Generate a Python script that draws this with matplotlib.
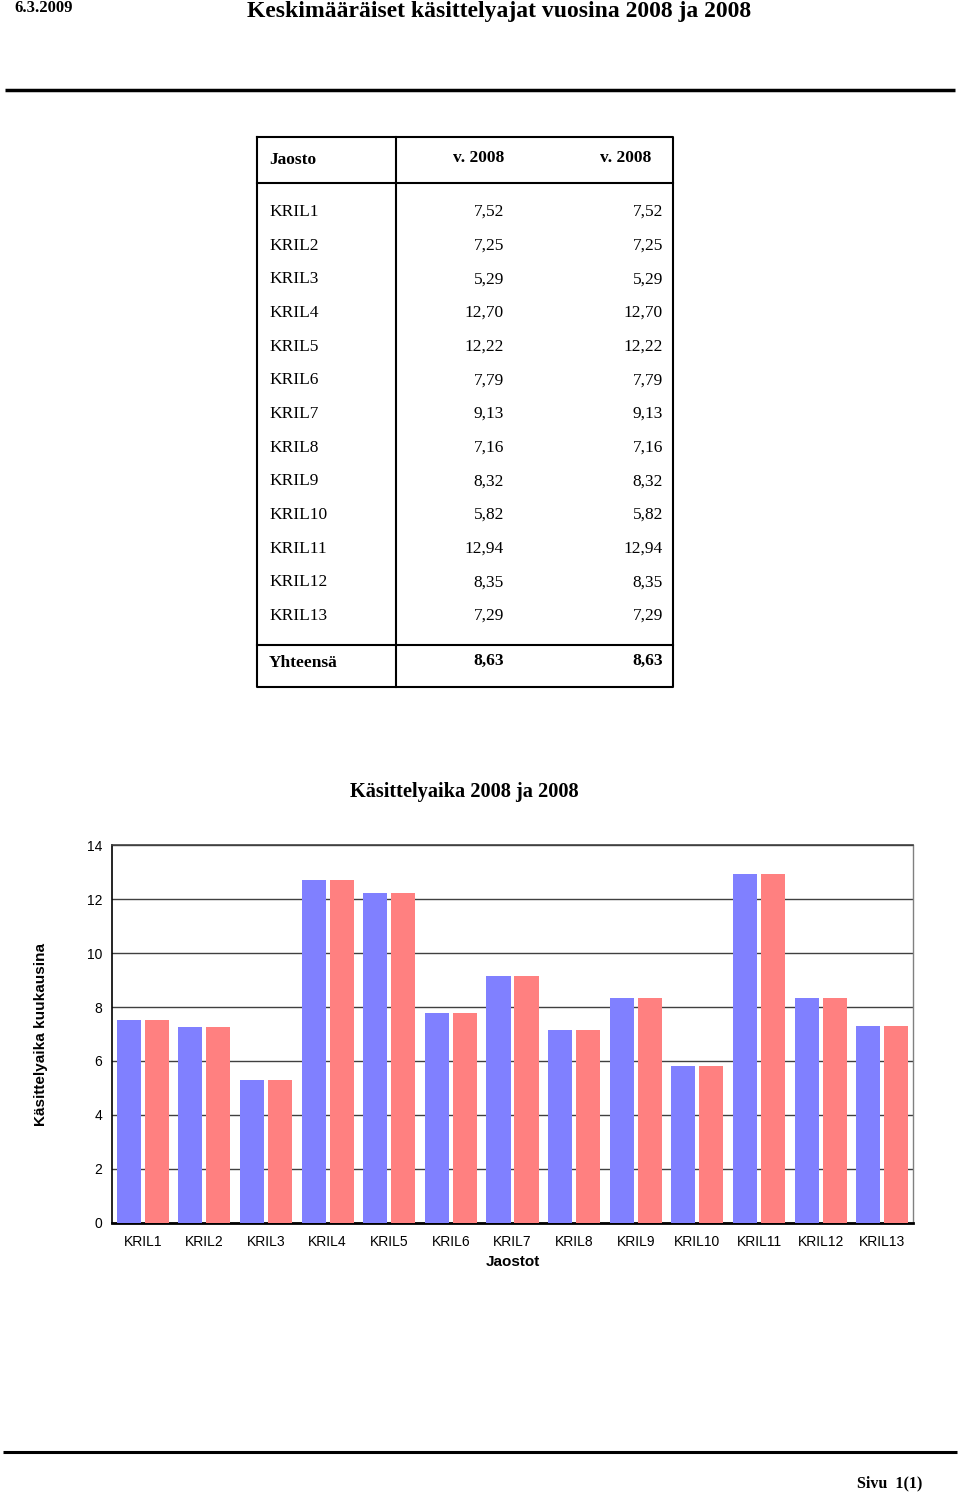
import numpy as np
import matplotlib
matplotlib.use("Agg")
import matplotlib.pyplot as plt

# data
jaostot = ["KRIL1", "KRIL2", "KRIL3", "KRIL4", "KRIL5", "KRIL6", "KRIL7",
           "KRIL8", "KRIL9", "KRIL10", "KRIL11", "KRIL12", "KRIL13"]
v2008_a = [7.52, 7.25, 5.29, 12.70, 12.22, 7.79, 9.13, 7.16, 8.32, 5.82, 12.94, 8.35, 7.29]
v2008_b = [7.52, 7.25, 5.29, 12.70, 12.22, 7.79, 9.13, 7.16, 8.32, 5.82, 12.94, 8.35, 7.29]
yhteensa = [8.63, 8.63]
yticks = [0, 2, 4, 6, 8, 10, 12, 14]

W, H = 960, 1492
serif = "Liberation Serif"
sans = "Liberation Sans"

fig = plt.figure(figsize=(W / 100, H / 100), dpi=100)

# page overlay in pixel coordinates
page = fig.add_axes([0, 0, 1, 1])
page.set_xlim(0, W)
page.set_ylim(H, 0)
page.axis("off")

def fmt(v):
    return f"{v:.2f}".replace(".", ",")

# header
page.text(14, 8, "6.3.2009", family=serif, weight="bold", fontsize=12, va="center", ha="left")
page.text(499, 12, "Keskimääräiset käsittelyajat vuosina 2008 ja 2008", family=serif,
          weight="bold", fontsize=17, va="center", ha="center")
page.plot([5, 955], [90, 90], color="black", lw=2.5, solid_capstyle="butt")

# table
tl, tr, tt, tb = 257, 673, 137, 687
divx = 396
page.plot([tl, tr, tr, tl, tl], [tt, tt, tb, tb, tt], color="black", lw=1.5)
page.plot([divx, divx], [tt, tb], color="black", lw=1.5)
page.plot([tl, tr], [183, 183], color="black", lw=1.5)
page.plot([tl, tr], [645, 645], color="black", lw=1.5)

tfs = 12.5
page.text(269, 160, "Jaosto", family=serif, weight="bold", fontsize=tfs, va="center")
page.text(504, 158, "v. 2008", family=serif, weight="bold", fontsize=tfs, va="center", ha="right")
page.text(651, 158, "v. 2008", family=serif, weight="bold", fontsize=tfs, va="center", ha="right")

row0, step = 212, (616 - 212) / 12
for i, name in enumerate(jaostot):
    y = row0 + i * step
    page.text(269, y, name, family=serif, fontsize=tfs, va="center")
    page.text(504, y, fmt(v2008_a[i]), family=serif, fontsize=tfs, va="center", ha="right")
    page.text(663, y, fmt(v2008_b[i]), family=serif, fontsize=tfs, va="center", ha="right")

page.text(269, 663, "Yhteensä", family=serif, weight="bold", fontsize=tfs, va="center")
page.text(504, 661, fmt(yhteensa[0]), family=serif, weight="bold", fontsize=tfs, va="center", ha="right")
page.text(663, 661, fmt(yhteensa[1]), family=serif, weight="bold", fontsize=tfs, va="center", ha="right")

# chart title
page.text(464, 792, "Käsittelyaika 2008 ja 2008", family=serif, weight="bold",
          fontsize=14.7, va="center", ha="center")

# footer
page.plot([3, 957], [1452, 1452], color="black", lw=2.2, solid_capstyle="butt")
page.text(890, 1483, "Sivu  1(1)", family=serif, weight="bold", fontsize=11.5, va="center", ha="center")

# bar chart
left, right, top, bottom = 112, 913, 845, 1223
ax = fig.add_axes([left / W, 1 - bottom / H, (right - left) / W, (bottom - top) / H])
x = np.arange(len(jaostot))
bw = 0.39
ax.bar(x - 0.227, v2008_a, width=bw, color="#8080ff", zorder=3)
ax.bar(x + 0.227, v2008_b, width=bw, color="#ff8080", zorder=3)
ax.set_xlim(-0.5, len(jaostot) - 0.5)
ax.set_ylim(0, 14)
ax.set_yticks(yticks)
ax.yaxis.grid(True, color="#404040", lw=1, zorder=0)
ax.set_axisbelow(True)
ax.set_xticks(x)
ax.set_xticklabels(jaostot, family=sans, fontsize=10)
for lab in ax.get_yticklabels():
    lab.set_family(sans)
    lab.set_fontsize(10)
ax.tick_params(axis="y", length=0, pad=7)
ax.tick_params(axis="x", length=0, pad=9)
ax.spines["left"].set_color("black")
ax.spines["left"].set_linewidth(1.2)
ax.spines["bottom"].set_color("black")
ax.spines["bottom"].set_linewidth(2)
ax.spines["top"].set_color("#404040")
ax.spines["top"].set_linewidth(1.2)
ax.spines["right"].set_color("#808080")
ax.spines["right"].set_linewidth(1)
ax.set_xlabel("Jaostot", family=sans, weight="bold", fontsize=11, labelpad=4)
ax.set_ylabel("Käsittelyaika kuukausina", family=sans, weight="bold", fontsize=11, labelpad=28)

fig.savefig("out.png", dpi=100)
